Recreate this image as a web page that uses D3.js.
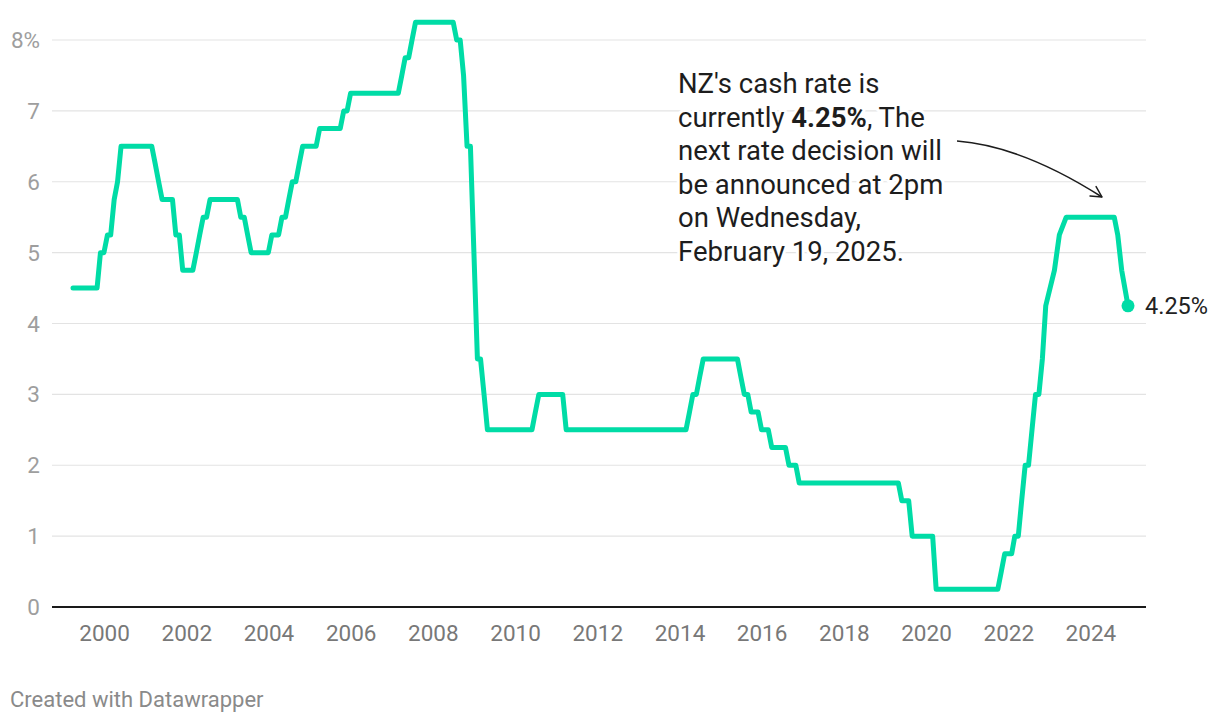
<!DOCTYPE html>
<html>
<head>
<meta charset="utf-8">
<script src="https://cdn.jsdelivr.net/npm/d3@7"></script>
<style>
  html, body { margin: 0; padding: 0; background: #fff; }
  svg { display: block; font-family: Roboto, "Noto Sans", sans-serif; }
</style>
</head>
<body>
<svg id="chart" width="1220" height="724"></svg>
<script>
// ---- DATA (official cash rate, vertices of the line) ----
const dates = [
  "1999-03-31","1999-10-31","1999-11-30","1999-12-31","2000-01-31","2000-02-29","2000-03-31","2000-04-30","2000-05-31",
  "2001-02-28","2001-03-31","2001-04-30","2001-05-31","2001-08-31","2001-09-30","2001-10-31","2001-11-30",
  "2002-02-28","2002-03-31","2002-04-30","2002-05-31","2002-06-30","2002-07-31",
  "2003-03-31","2003-04-30","2003-05-31","2003-06-30","2003-07-31","2003-12-31",
  "2004-01-31","2004-03-31","2004-04-30","2004-05-31","2004-06-30","2004-07-31","2004-08-31","2004-09-30","2004-10-31",
  "2005-02-28","2005-03-31","2005-09-30","2005-10-31","2005-11-30","2005-12-31",
  "2007-02-28","2007-03-31","2007-04-30","2007-05-31","2007-06-30","2007-07-31",
  "2008-06-30","2008-07-31","2008-08-31","2008-09-30","2008-10-31","2008-11-30","2008-12-31",
  "2009-01-31","2009-02-28","2009-03-31","2009-04-30",
  "2010-05-31","2010-06-30","2010-07-31","2011-02-28","2011-03-31",
  "2014-02-28","2014-03-31","2014-04-30","2014-05-31","2014-06-30","2014-07-31",
  "2015-05-31","2015-06-30","2015-07-31","2015-08-31","2015-09-30","2015-11-30","2015-12-31",
  "2016-02-29","2016-03-31","2016-07-31","2016-08-31","2016-10-31","2016-11-30",
  "2019-04-30","2019-05-31","2019-07-31","2019-08-31","2020-02-29","2020-03-31",
  "2021-09-30","2021-10-31","2021-11-30",
  "2022-01-31","2022-02-28","2022-03-31","2022-04-30","2022-05-31","2022-06-30","2022-07-31","2022-08-31","2022-09-30","2022-10-31","2022-11-30",
  "2023-02-15","2023-03-31","2023-05-31",
  "2024-07-31","2024-08-31","2024-10-05","2024-11-30"
];
const rates = [
  4.5,4.5,5.0,5.0,5.25,5.25,5.75,6.0,6.5,
  6.5,6.25,6.0,5.75,5.75,5.25,5.25,4.75,
  4.75,5.0,5.25,5.5,5.5,5.75,
  5.75,5.5,5.5,5.25,5.0,5.0,
  5.25,5.25,5.5,5.5,5.75,6.0,6.0,6.25,6.5,
  6.5,6.75,6.75,7.0,7.0,7.25,
  7.25,7.5,7.75,7.75,8.0,8.25,
  8.25,8.0,8.0,7.5,6.5,6.5,5.0,
  3.5,3.5,3.0,2.5,
  2.5,2.75,3.0,3.0,2.5,
  2.5,2.75,3.0,3.0,3.25,3.5,
  3.5,3.25,3.0,3.0,2.75,2.75,2.5,
  2.5,2.25,2.25,2.0,2.0,1.75,
  1.75,1.5,1.5,1.0,1.0,0.25,
  0.25,0.5,0.75,
  0.75,1.0,1.0,1.5,2.0,2.0,2.5,3.0,3.0,3.5,4.25,
  4.75,5.25,5.5,
  5.5,5.25,4.75,4.25
];
const yTicks = [0,1,2,3,4,5,6,7,8];
const xTickYears = [2000,2002,2004,2006,2008,2010,2012,2014,2016,2018,2020,2022,2024];
const currentLabel = "4.25%";
const annotationLines = [
  [["NZ's cash rate is", false]],
  [["currently ", false], ["4.25%", true], [", The", false]],
  [["next rate decision will", false]],
  [["be announced at 2pm", false]],
  [["on Wednesday,", false]],
  [["February 19, 2025.", false]]
];
const footerText = "Created with Datawrapper";

// ---- BUILD ----
const parse = d3.timeParse("%Y-%m-%d");
const data = dates.map((d, i) => ({ date: parse(d), value: rates[i] }));

const svg = d3.select("#chart");
const lineColor = "#00dca6";

const x = d3.scaleTime()
  .domain([data[0].date, data[data.length - 1].date])
  .range([73, 1128]);
const y = d3.scaleLinear().domain([0, 8]).range([607, 40]);

const gridLeft = 52, gridRight = 1146;

// gridlines
svg.append("g").selectAll("line")
  .data(yTicks.filter(d => d !== 0))
  .join("line")
  .attr("x1", gridLeft).attr("x2", gridRight)
  .attr("y1", d => y(d)).attr("y2", d => y(d))
  .attr("stroke", "#e3e3e3").attr("stroke-width", 1.2);

// y labels
svg.append("g").selectAll("text")
  .data(yTicks)
  .join("text")
  .attr("x", 40)
  .attr("y", d => y(d))
  .attr("dy", "0.36em")
  .attr("text-anchor", "end")
  .attr("fill", "#9e9e9e")
  .attr("font-size", 22.5)
  .text(d => d === 8 ? d + "%" : d);

// x axis
const xAxis = d3.axisBottom(x)
  .tickValues(xTickYears.map(yr => new Date(yr, 0, 1)))
  .tickFormat(d3.timeFormat("%Y"))
  .tickSize(0)
  .tickPadding(18);
const gx = svg.append("g").attr("transform", `translate(0,${y(0)})`).call(xAxis);
gx.select(".domain").remove();
gx.selectAll("text").attr("font-size", 22.5).attr("fill", "#787878").attr("font-family", "Roboto, sans-serif");

// baseline
svg.append("line")
  .attr("x1", gridLeft).attr("x2", gridRight)
  .attr("y1", y(0)).attr("y2", y(0))
  .attr("stroke", "#1a1a1a").attr("stroke-width", 2.2);

// line
const line = d3.line().x(d => x(d.date)).y(d => y(d.value));
svg.append("path")
  .datum(data)
  .attr("d", line)
  .attr("fill", "none")
  .attr("stroke", lineColor)
  .attr("stroke-width", 5)
  .attr("stroke-linejoin", "round")
  .attr("stroke-linecap", "round");

// end dot & label
const last = data[data.length - 1];
svg.append("circle")
  .attr("cx", x(last.date)).attr("cy", y(last.value))
  .attr("r", 6.5).attr("fill", lineColor);
svg.append("text")
  .attr("x", x(last.date) + 17).attr("y", y(last.value))
  .attr("dy", "0.36em")
  .attr("font-size", 23.5)
  .attr("fill", "#222")
  .text(currentLabel);

// annotation
const ann = svg.append("text")
  .attr("x", 678).attr("y", 93)
  .attr("font-size", 27.5)
  .attr("fill", "#1d1d1d")
  .attr("stroke", "#fff").attr("stroke-width", 6)
  .attr("stroke-linejoin", "round")
  .attr("paint-order", "stroke");
annotationLines.forEach((parts, i) => {
  parts.forEach((p, j) => {
    const ts = ann.append("tspan").text(p[0]);
    if (j === 0) ts.attr("x", 678).attr("y", 93 + i * 33.5);
    if (p[1]) ts.attr("font-weight", 700);
  });
});

// arrow
const P0 = [957, 141], C = [1022, 146], P2 = [1102, 197];
svg.append("path")
  .attr("d", `M${P0[0]},${P0[1]} Q${C[0]},${C[1]} ${P2[0]},${P2[1]}`)
  .attr("fill", "none").attr("stroke", "#1d1d1d").attr("stroke-width", 1.5);
const ang = Math.atan2(P2[1] - C[1], P2[0] - C[0]);
const hl = 12, spread = 28 * Math.PI / 180;
const a1 = [P2[0] - hl * Math.cos(ang - spread), P2[1] - hl * Math.sin(ang - spread)];
const a2 = [P2[0] - hl * Math.cos(ang + spread), P2[1] - hl * Math.sin(ang + spread)];
svg.append("path")
  .attr("d", `M${a1[0]},${a1[1]} L${P2[0]},${P2[1]} L${a2[0]},${a2[1]}`)
  .attr("fill", "none").attr("stroke", "#1d1d1d").attr("stroke-width", 1.5)
  .attr("stroke-linejoin", "round").attr("stroke-linecap", "round");

// footer
svg.append("text")
  .attr("x", 10).attr("y", 707)
  .attr("font-size", 22)
  .attr("fill", "#8a8a8a")
  .text(footerText);
</script>
</body>
</html>
